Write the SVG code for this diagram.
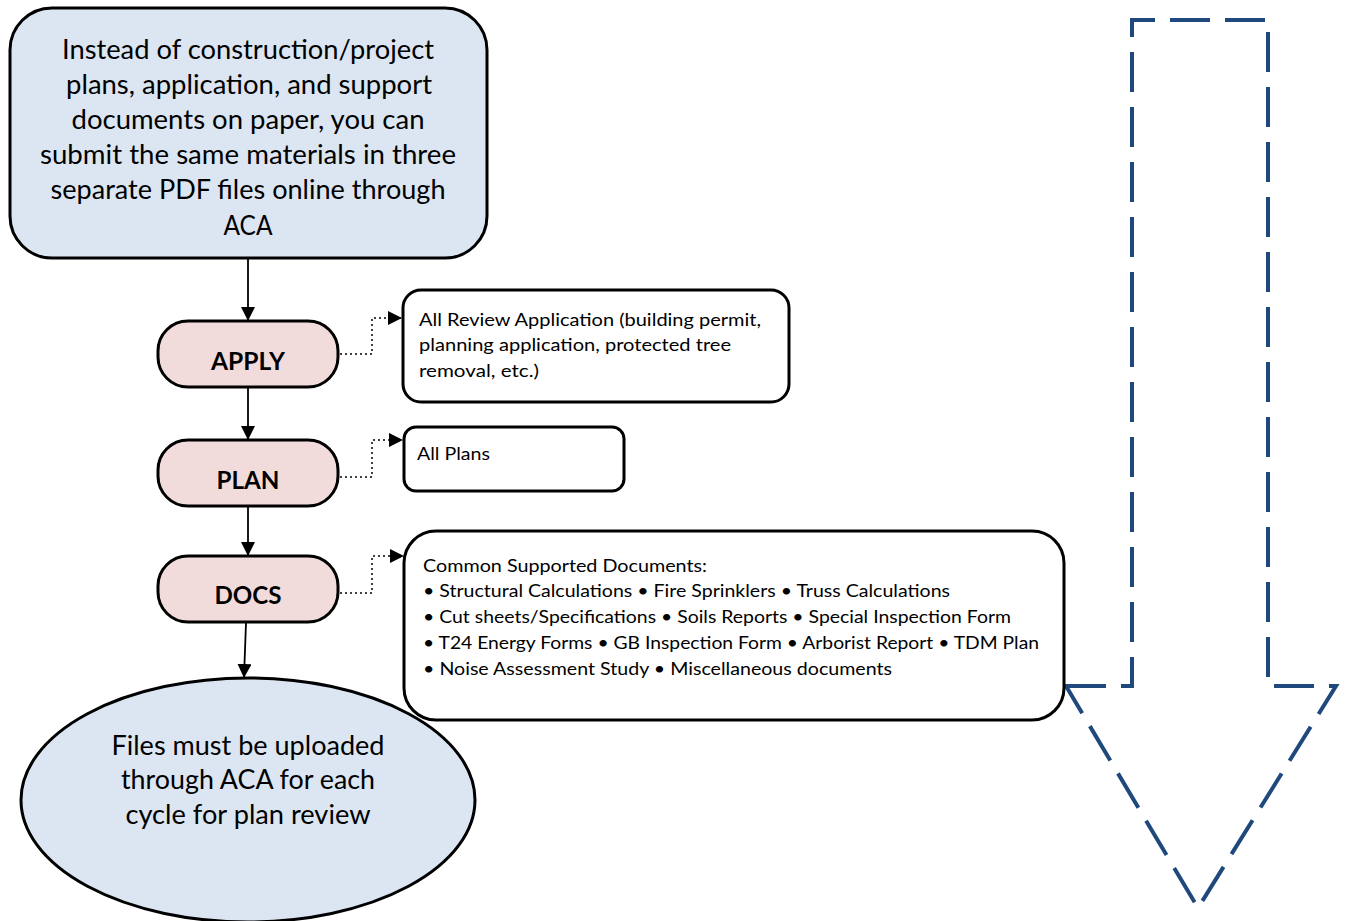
<svg xmlns="http://www.w3.org/2000/svg" width="1346" height="921" viewBox="0 0 1346 921">
<style>
.big{font-family:Lato,"Open Sans",sans-serif;font-size:26px;fill:#000;text-anchor:middle}
.lbl{font-family:Lato,"Open Sans",sans-serif;font-size:25px;font-weight:bold;fill:#000;text-anchor:middle}
.sm{font-family:Lato,"Open Sans",sans-serif;font-size:18px;fill:#000}
.blue{fill:#dce6f2;stroke:#000;stroke-width:3}
.pink{fill:#f2dcdb;stroke:#000;stroke-width:3}
.white{fill:#fff;stroke:#000;stroke-width:3}
.solid{stroke:#000;stroke-width:1.8;fill:none}
.dot{stroke:#000;stroke-width:1.5;fill:none;stroke-dasharray:2 3}
</style>
<defs>
<marker id="ah" markerWidth="10" markerHeight="10" refX="9" refY="5" orient="auto" markerUnits="userSpaceOnUse" viewBox="0 0 10 10">
<path d="M0,0 L10,5 L0,10 Z" fill="#000"/>
</marker>
<marker id="ahd" markerWidth="14" markerHeight="14" refX="13" refY="7" orient="auto" markerUnits="userSpaceOnUse" viewBox="0 0 14 14">
<path d="M0,0 L14,7 L0,14 Z" fill="#000"/>
</marker>
</defs>
<rect width="1346" height="921" fill="#fff"/>

<g id="bigarrow">
<path d="M1066,686 L1132,686 L1132,20 L1268,20 L1268,686 L1336,686 L1198,908 Z" fill="none" stroke="#1f497d" stroke-width="4" stroke-dasharray="40 15"/>
</g>

<g id="connectors">
<line class="solid" x1="248" y1="259" x2="248" y2="320" marker-end="url(#ahd)"/>
<line class="solid" x1="248" y1="388" x2="248" y2="439" marker-end="url(#ahd)"/>
<line class="solid" x1="248" y1="507" x2="248" y2="555" marker-end="url(#ahd)"/>
<line class="solid" x1="246" y1="623" x2="244" y2="677" marker-end="url(#ahd)"/>
<path class="dot" d="M340,354 L372,354 L372,318 L401,318" marker-end="url(#ahd)"/>
<path class="dot" d="M340,477 L372,477 L372,440 L402,440" marker-end="url(#ahd)"/>
<path class="dot" d="M340,593 L372,593 L372,556 L403,556" marker-end="url(#ahd)"/>
</g>

<g id="intro">
<rect class="blue" x="10" y="8" width="477" height="250" rx="42"/>
<text class="big" x="248" y="59" textLength="372" lengthAdjust="spacingAndGlyphs">Instead of construction/project</text>
<text class="big" x="249" y="94" textLength="366" lengthAdjust="spacingAndGlyphs">plans, application, and support</text>
<text class="big" x="248" y="129" textLength="353" lengthAdjust="spacingAndGlyphs">documents on paper, you can</text>
<text class="big" x="248" y="164" textLength="416" lengthAdjust="spacingAndGlyphs">submit the same materials in three</text>
<text class="big" x="248" y="199" textLength="395" lengthAdjust="spacingAndGlyphs">separate PDF files online through</text>
<text class="big" x="248" y="235" textLength="49" lengthAdjust="spacingAndGlyphs">ACA</text>
</g>

<g id="apply">
<rect class="pink" x="158" y="321" width="180" height="66" rx="30"/>
<text class="lbl" x="248" y="370" textLength="74" lengthAdjust="spacingAndGlyphs">APPLY</text>
</g>
<g id="plan">
<rect class="pink" x="158" y="440" width="180" height="66" rx="30"/>
<text class="lbl" x="248" y="489" textLength="63" lengthAdjust="spacingAndGlyphs">PLAN</text>
</g>
<g id="docs">
<rect class="pink" x="158" y="556" width="180" height="66" rx="30"/>
<text class="lbl" x="248" y="604" textLength="67" lengthAdjust="spacingAndGlyphs">DOCS</text>
</g>

<g id="review">
<rect class="white" x="403" y="290" width="386" height="112" rx="18"/>
<text class="sm" x="419" y="326" textLength="342" lengthAdjust="spacingAndGlyphs">All Review Application (building permit,</text>
<text class="sm" x="419" y="351" textLength="312" lengthAdjust="spacingAndGlyphs">planning application, protected tree</text>
<text class="sm" x="419" y="377" textLength="120" lengthAdjust="spacingAndGlyphs">removal, etc.)</text>
</g>

<g id="plans">
<rect class="white" x="404" y="427" width="220" height="64" rx="12"/>
<text class="sm" x="417" y="460" textLength="73" lengthAdjust="spacingAndGlyphs">All Plans</text>
</g>

<g id="documents">
<rect class="white" x="404" y="531" width="660" height="189" rx="32"/>
<text class="sm" x="423" y="572" textLength="284" lengthAdjust="spacingAndGlyphs">Common Supported Documents:</text>
<text class="sm" x="423" y="597" textLength="527" lengthAdjust="spacingAndGlyphs">• Structural Calculations • Fire Sprinklers • Truss Calculations</text>
<text class="sm" x="423" y="623" textLength="588" lengthAdjust="spacingAndGlyphs">• Cut sheets/Specifications • Soils Reports • Special Inspection Form</text>
<text class="sm" x="423" y="649" textLength="616" lengthAdjust="spacingAndGlyphs">• T24 Energy Forms • GB Inspection Form • Arborist Report • TDM Plan</text>
<text class="sm" x="423" y="675" textLength="469" lengthAdjust="spacingAndGlyphs">• Noise Assessment Study • Miscellaneous documents</text>
</g>

<g id="upload">
<ellipse class="blue" cx="248" cy="800" rx="227" ry="122"/>
<text class="big" x="248" y="755" textLength="273" lengthAdjust="spacingAndGlyphs">Files must be uploaded</text>
<text class="big" x="248" y="789" textLength="254" lengthAdjust="spacingAndGlyphs">through ACA for each</text>
<text class="big" x="248" y="824" textLength="245" lengthAdjust="spacingAndGlyphs">cycle for plan review</text>
</g>
</svg>
